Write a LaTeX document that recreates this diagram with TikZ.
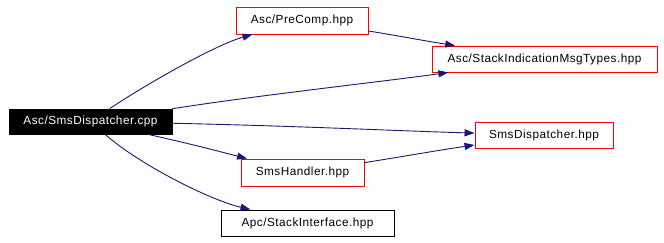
\documentclass[tikz,border=0pt]{standalone}
\usepackage{fontspec}
\setmainfont{Liberation Sans}[LetterSpace=4]
\usetikzlibrary{arrows.meta}
\definecolor{edgeblue}{HTML}{191970}
\definecolor{boxred}{HTML}{FF0000}
\begin{document}
\begin{tikzpicture}[x=1pt,y=-1pt,
  filebox/.style={draw=boxred,line width=0.9pt,fill=white,inner sep=0pt,
    font=\fontsize{11.8}{13}\selectfont,text=black},
  rootbox/.style={draw=black,fill=black,line width=0.9pt,inner sep=0pt,
    font=\fontsize{11.8}{13}\selectfont,text=white},
  extbox/.style={draw=black,line width=0.9pt,fill=white,inner sep=0pt,
    font=\fontsize{11.8}{13}\selectfont,text=black},
  dep/.style={draw=edgeblue,line width=0.9pt,
    -{Triangle[length=10pt,width=7pt]},fill=none}]
\useasboundingbox (0,0) rectangle (664,243);
\fill[white] (0,0) rectangle (664,243);

% files
\node[rootbox,minimum width=163pt,minimum height=25pt] (src) at (90.5,121.5) {Asc/SmsDispatcher.cpp};
\node[filebox,minimum width=132pt,minimum height=27pt] (pre) at (302,20.5) {Asc/PreComp.hpp};
\node[filebox,minimum width=225pt,minimum height=26pt] (sim) at (544.5,59) {Asc/StackIndicationMsgTypes.hpp};
\node[filebox,minimum width=138pt,minimum height=26pt] (sdh) at (544,135) {SmsDispatcher.hpp};
\node[filebox,minimum width=123pt,minimum height=27pt] (shd) at (302.5,172.5) {SmsHandler.hpp};
\node[extbox,minimum width=173pt,minimum height=26pt] (api) at (307.5,223) {Apc/StackInterface.hpp};

% include dependencies
\draw[dep] (src) .. controls (145,85) and (215,45) .. (pre);
\draw[dep] (src) .. controls (260,95) and (380,82) .. (sim);
\draw[dep] (pre) .. controls (400,36) and (425,41) .. (sim);
\draw[dep] (src) .. controls (300,126) and (400,131) .. (sdh);
\draw[dep] (src) .. controls (200,146) and (225,153) .. (shd);
\draw[dep] (shd) .. controls (400,157) and (440,150) .. (sdh);
\draw[dep] (src) .. controls (140,165) and (210,200) .. (api);
\end{tikzpicture}
\end{document}
